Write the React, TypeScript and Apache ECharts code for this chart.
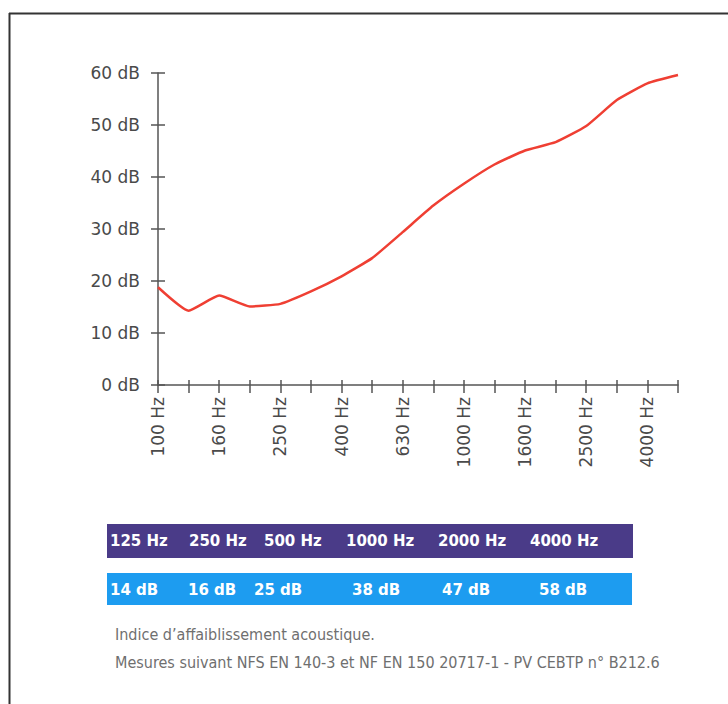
import React, { useEffect, useRef } from "react";
import * as echarts from "echarts";

const frequencies = [
  "100 Hz", "125 Hz", "160 Hz", "200 Hz", "250 Hz", "315 Hz", "400 Hz", "500 Hz", "630 Hz",
  "800 Hz", "1000 Hz", "1250 Hz", "1600 Hz", "2000 Hz", "2500 Hz", "3150 Hz", "4000 Hz", "5000 Hz",
];
const reduction = [18.8, 14.3, 17.2, 15.1, 15.6, 18.0, 20.9, 24.4, 29.4, 34.5, 38.7, 42.4, 45.1, 46.7, 49.8, 54.8, 58.0, 59.6];
const yTicks = [0, 10, 20, 30, 40, 50, 60];

const tableFreqs = ["125 Hz", "250 Hz", "500 Hz", "1000 Hz", "2000 Hz", "4000 Hz"];
const tableValues = ["14 dB", "16 dB", "25 dB", "38 dB", "47 dB", "58 dB"];
const freqTextX = [110, 189, 264, 346, 438, 530];
const valueTextX = [110, 188, 254, 352, 442, 539];

const caption1 = "Indice d\u2019affaiblissement acoustique.";
const caption2 = "Mesures suivant NFS EN 140-3 et NF EN 150 20717-1 - PV CEBTP n\u00b0 B212.6";

export default function App() {
  const ref = useRef<HTMLDivElement>(null);
  useEffect(() => {
    if (!ref.current) return;
    const chart = echarts.init(ref.current, null, { renderer: "svg" });
    const axisColor = "#555";
    const labelFont = { fontFamily: "DejaVu Sans", fontSize: 17, color: "#4a4a4a" };
    const graphic: any[] = [
      { type: "line", shape: { x1: 9.5, y1: 13, x2: 9.5, y2: 704 }, style: { stroke: "#333", lineWidth: 2 } },
      { type: "line", shape: { x1: 9, y1: 13.5, x2: 728, y2: 13.5 }, style: { stroke: "#333", lineWidth: 2 } },
      { type: "rect", shape: { x: 107, y: 524, width: 526, height: 34 }, style: { fill: "#4a3b88" } },
      { type: "rect", shape: { x: 107, y: 573, width: 525, height: 32 }, style: { fill: "#1d9cf0" } },
    ];
    tableFreqs.forEach((t, i) => {
      graphic.push({
        type: "text", x: freqTextX[i], y: 541,
        style: { text: t, fill: "#fff", font: "bold 15px 'DejaVu Sans'", verticalAlign: "middle", align: "left" },
      });
    });
    tableValues.forEach((t, i) => {
      graphic.push({
        type: "text", x: valueTextX[i], y: 590,
        style: { text: t, fill: "#fff", font: "bold 15px 'DejaVu Sans'", verticalAlign: "middle", align: "left" },
      });
    });
    graphic.push({
      type: "text", x: 115, y: 634,
      style: { text: caption1, fill: "#6f6f6f", font: "16px 'DejaVu Sans Condensed'", verticalAlign: "middle" },
    });
    graphic.push({
      type: "text", x: 115, y: 662,
      style: { text: caption2, fill: "#6f6f6f", font: "16px 'DejaVu Sans Condensed'", verticalAlign: "middle" },
    });

    chart.setOption({
      animation: false,
      backgroundColor: "#fff",
      grid: { left: 158, right: 50, top: 73, bottom: 319, containLabel: false },
      xAxis: [
        {
          type: "category", data: frequencies, boundaryGap: false, position: "bottom",
          axisLine: { lineStyle: { color: axisColor, width: 1.5 } },
          axisTick: { show: true, inside: false, length: 8, interval: 0, lineStyle: { color: axisColor, width: 1.5 } },
          axisLabel: { ...labelFont, rotate: 90, interval: 1, margin: 12 },
          splitLine: { show: false },
        },
        {
          type: "category", data: frequencies, boundaryGap: false, position: "bottom",
          axisLine: { show: false },
          axisTick: { show: true, inside: true, length: 5, interval: 0, lineStyle: { color: axisColor, width: 1.5 } },
          axisLabel: { show: false },
          splitLine: { show: false },
        },
      ],
      yAxis: [
        {
          type: "value", min: yTicks[0], max: yTicks[yTicks.length - 1], interval: 10,
          axisLine: { show: true, lineStyle: { color: axisColor, width: 1.5 } },
          axisTick: { show: true, inside: false, length: 7, lineStyle: { color: axisColor, width: 1.5 } },
          axisLabel: { ...labelFont, margin: 18, formatter: (v: number) => `${v} dB` },
          splitLine: { show: false },
        },
        {
          type: "value", min: yTicks[0], max: yTicks[yTicks.length - 1], interval: 10, position: "left",
          axisLine: { show: false },
          axisTick: { show: true, inside: true, length: 7, lineStyle: { color: axisColor, width: 1.5 } },
          axisLabel: { show: false },
          splitLine: { show: false },
        },
      ],
      series: [
        {
          type: "line", data: reduction, xAxisIndex: 0, yAxisIndex: 0,
          smooth: 0.15, showSymbol: false,
          lineStyle: { color: "#ef3f33", width: 2.5 },
        },
      ],
      graphic,
    });
    return () => chart.dispose();
  }, []);
  return <div ref={ref} style={{ position: "fixed", left: 0, top: 0, width: 728, height: 704 }} />;
}
